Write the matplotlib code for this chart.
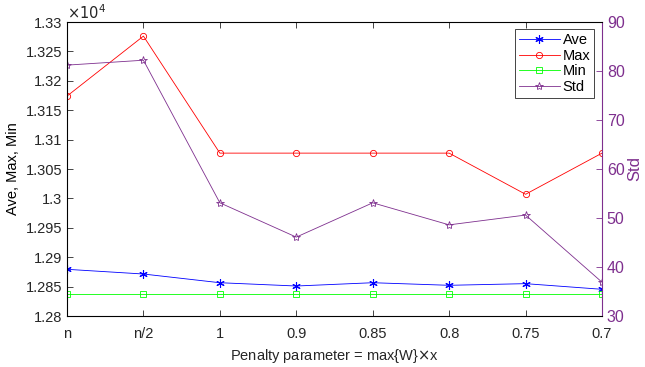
import matplotlib
matplotlib.use('Agg')
import matplotlib.pyplot as plt
import numpy as np

plt.rcParams['font.family'] = ['Liberation Sans', 'DejaVu Sans']

labels = ['n', 'n/2', '1', '0.9', '0.85', '0.8', '0.75', '0.7']
ave = [1.28794, 1.28714, 1.28566, 1.2851, 1.28566, 1.28522, 1.2855, 1.28454]
mx = [1.3174, 1.3276, 1.3077, 1.3077, 1.3077, 1.3077, 1.3007, 1.3077]
mn = [1.28374, 1.28374, 1.28374, 1.28374, 1.28374, 1.28374, 1.28374, 1.28374]
std = [81.2, 82.2, 53.1, 46.1, 53.1, 48.6, 50.6, 36.9]

purple = (0.494, 0.184, 0.556)
gray = (0.15, 0.15, 0.15)
fs = 10.5

fig = plt.figure(figsize=(6.45, 3.67), dpi=100)
ax = fig.add_axes([67/645, 1-316/367, (602-67)/645, (316-22)/367])
x = np.arange(len(labels))

# MATLAB style markers: asterisk, circle, square, pentagram
l1, = ax.plot(x, ave, color='blue', marker=(6, 2, 0), ms=6, mew=0.8, lw=0.6, label='Ave')
l2, = ax.plot(x, mx, color='red', marker='o', ms=4.5, mew=0.6, mfc='none', lw=0.6, label='Max')
l3, = ax.plot(x, mn, color=(0, 1, 0), marker='s', ms=4, mew=0.6, mfc='none', lw=0.6, label='Min')

ax.set_xlim(0, 7)
ax.set_ylim(1.28, 1.33)
ax.set_xticks(x)
ax.set_xticklabels(labels)
ax.set_yticks(np.arange(1.28, 1.3301, 0.005))
ax.set_yticklabels(['1.28', '1.285', '1.29', '1.295', '1.3', '1.305', '1.31', '1.315', '1.32', '1.325', '1.33'])
ax.tick_params(direction='in', length=4, width=0.6, labelsize=fs, colors=gray, top=True)
ax.tick_params(axis='x', pad=8)
for s in ax.spines.values():
    s.set_color(gray)
    s.set_linewidth(0.6)
ax.set_ylabel('Ave, Max, Min', fontsize=fs, color='black')
ax.set_xlabel(r'Penalty parameter = max{W}$\times$x', fontsize=fs, color=gray)
ax.text(0, 1.0, r'$\times10^4$', transform=ax.transAxes, fontsize=fs, color=gray, va='bottom', ha='left')

ax2 = ax.twinx()
l4, = ax2.plot(x, std, color=purple, marker='*', ms=6, mew=0.6, mfc='none', lw=0.6, label='Std')
ax2.set_ylim(30, 90)
ax2.set_yticks(np.arange(30, 91, 10))
ax2.tick_params(direction='in', length=4, width=0.6, labelsize=fs + 1, colors=purple)
ax2.spines['right'].set_color(purple)
ax2.set_ylabel('Std', fontsize=fs + 1.5, color=purple, rotation=90, labelpad=2)

leg = ax2.legend([l1, l2, l3, l4], ['Ave', 'Max', 'Min', 'Std'], loc='upper right',
                 bbox_to_anchor=(0.985, 0.975), fontsize=fs, fancybox=False, framealpha=1,
                 edgecolor=gray, handlelength=2.8, borderpad=0.25, labelspacing=0.12,
                 handletextpad=0.2, borderaxespad=0)
leg.get_frame().set_linewidth(0.6)

fig.savefig('out.png', dpi=100)
